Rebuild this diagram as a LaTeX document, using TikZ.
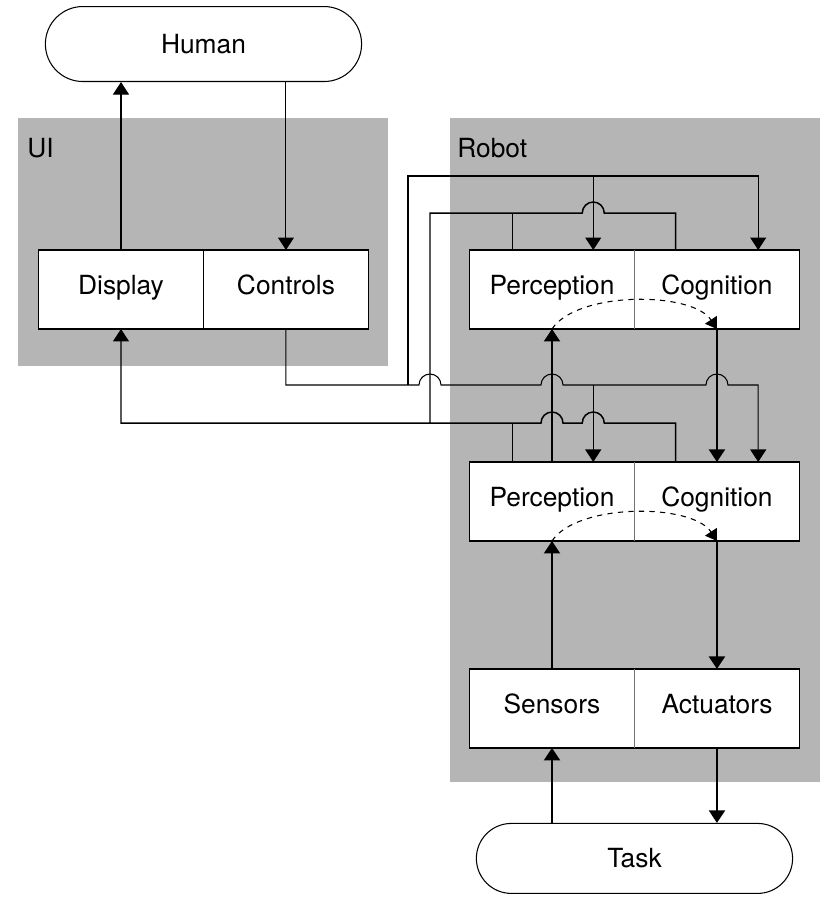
\documentclass[tikz,border=0pt]{standalone}
\usepackage{fontspec}
\setmainfont{TeX Gyre Heros}
\usepackage{tikz}
\usetikzlibrary{arrows.meta, positioning, calc, shapes.misc}
\definecolor{cPanel}{RGB}{181,181,181}
\tikzset{
	blk/.style={rectangle, draw=black, line width=0.8pt, fill=white, outer sep=0pt, minimum width=3.3cm, minimum height=1.58cm, inner sep=1pt, text height=1.55ex, text depth=0.45ex, text centered, font=\fontsize{15}{18}\selectfont},
	rblk/.style={blk, draw=none},
	term/.style={rounded rectangle, draw=black, line width=0.6pt, fill=white, minimum width=6.56cm, minimum height=1.5cm, text centered, font=\fontsize{15}{18}\selectfont},
	lbl/.style={anchor=west, inner sep=0pt, font=\fontsize{15}{18}\selectfont},
	panel/.style={fill=cPanel, draw=none},
	% connector helpers
	sig/.style={-{Triangle[length=0.25cm, width=0.32cm]}, line width=0.6pt},
	dsig/.style={{Triangle[length=0.25cm, width=0.32cm]}-, line width=0.85pt},
	dline/.style={line width=0.85pt},
	flow/.style={-{Triangle[length=0.25cm, width=0.32cm]}, line width=1.2pt},
	dflow/.style={-{Triangle[length=0.22cm, width=0.28cm]}, dashed, line width=0.6pt},
	frame/.style={draw=black, line width=0.8pt},
	divider/.style={draw=black!55, line width=0.5pt},
}
\begin{document}
\begin{tikzpicture}[x=0.02cm, y=-0.02cm]
	\useasboundingbox (0,0) rectangle (825,897);
	\fill[panel] (18,118) rectangle (388,366);
	\fill[panel] (450,118) rectangle (820,782);
	\node[lbl] (uil) at (27,148) {UI};
	\node[lbl] (robl) at (457,148) {Robot};
	\node[blk] (disp) at (121,289.5) {Display};
	\node[blk, right=0pt of disp] (ctl) {Controls};
	\node[term, above=3.36cm of disp.north east] (human) {Human};
	\node[rblk] (perc1) at (552,289.5) {Perception};
	\node[rblk, right=0pt of perc1] (cog1) {Cognition};
	\node[rblk, below=2.66cm of perc1] (perc2) {Perception};
	\node[rblk, right=0pt of perc2] (cog2) {Cognition};
	\node[rblk, below=2.56cm of perc2] (sens) {Sensors};
	\node[rblk, right=0pt of sens] (act) {Actuators};
	\node[term, below=1.5cm of sens.south east, minimum height=1.4cm] (task) {Task};
	\foreach \l/\r in {perc1/cog1, perc2/cog2, sens/act} {
		\draw[frame] (\l.north west) rectangle (\r.south east);
		\draw[divider] (\l.north east) -- (\l.south east);
	}
	% bus levels and risers
	\coordinate (cbusA) at (0,176);
	\coordinate (dbusA) at (0,213);
	\coordinate (cbusB) at (0,385);
	\coordinate (dbusB) at (0,423);
	\coordinate (crise) at (408,0);
	\coordinate (drise) at (430,0);
	\coordinate (pin1) at ($(perc1.north west)!0.75!(perc1.north east)$);
	\coordinate (cin1) at ($(cog1.north west)!0.75!(cog1.north east)$);
	\coordinate (pout1) at ($(perc1.north west)!0.26!(perc1.north east)$);
	\coordinate (cout1) at ($(cog1.north west)!0.25!(cog1.north east)$);
	\coordinate (pin2) at ($(perc2.north west)!0.75!(perc2.north east)$);
	\coordinate (cin2) at ($(cog2.north west)!0.75!(cog2.north east)$);
	\coordinate (pout2) at ($(perc2.north west)!0.26!(perc2.north east)$);
	\coordinate (cout2) at ($(cog2.north west)!0.25!(cog2.north east)$);
	\draw[sig] (disp.north) -- (disp.north |- human.south);
	\draw[sig] (ctl.north |- human.south) -- (ctl.north);
	\draw[sig] (ctl.south) |- ($(drise |- cbusB)+(-11,0)$) arc[start angle=180, end angle=360, radius=11]
		-- ($(perc2.north |- cbusB)+(-11,0)$) arc[start angle=180, end angle=360, radius=11]
		-- ($(cog2.north |- cbusB)+(-11,0)$) arc[start angle=180, end angle=360, radius=11] -| (cin2);
	\draw[sig] (crise |- cbusB) -- (crise |- cbusA) -| (cin1);
	\draw[sig] (pin1 |- cbusA) -- (pin1);
	\draw[sig] (pin2 |- cbusB) -- (pin2);
	\draw[dsig] (disp.south) |- ($(perc2.north |- dbusB)+(-11,0)$) arc[start angle=180, end angle=360, radius=11]
		-- ($(pin2 |- dbusB)+(-11,0)$) arc[start angle=180, end angle=360, radius=11] -| (cout2);
	\draw[dline] (pout2 |- dbusB) -- (pout2);
	\draw[dline] (drise |- dbusB) -- (drise |- dbusA) -- ($(pin1 |- dbusA)+(-11,0)$) arc[start angle=180, end angle=360, radius=11] -| (cout1);
	\draw[dline] (pout1 |- dbusA) -- (pout1);
	\draw[flow] (perc2.north) -- (perc1.south);
	\draw[flow] (cog1.south) -- (cog2.north);
	\draw[flow] (sens.north) -- (perc2.south);
	\draw[flow] (cog2.south) -- (act.north);
	\draw[flow] (sens.south |- task.north) -- (sens.south);
	\draw[flow] (act.south) -- (act.south |- task.north);
	\draw[dflow] (perc1.south) .. controls +(25,-38) and +(-25,-38) .. (cog1.south);
	\draw[dflow] (perc2.south) .. controls +(25,-38) and +(-25,-38) .. (cog2.south);
\end{tikzpicture}
\end{document}
